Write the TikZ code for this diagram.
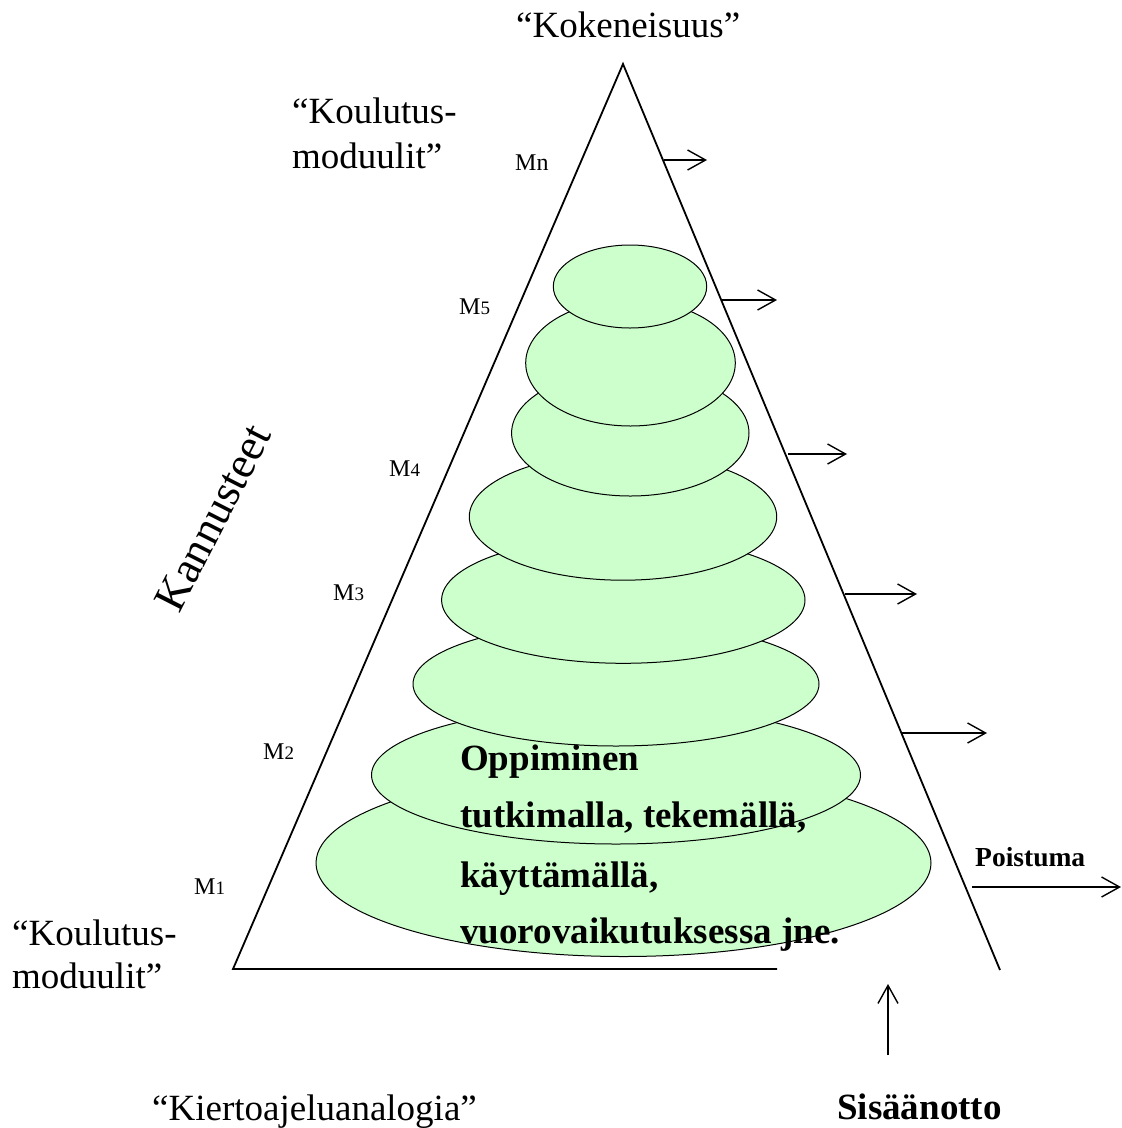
\documentclass[tikz,border=0pt]{standalone}
\usepackage{fontspec}
\setmainfont{Liberation Serif}
\usetikzlibrary{arrows.meta}
\definecolor{pale}{HTML}{CCFFCC}
\tikzset{
  ell/.style={draw=black, line width=1pt, fill=pale},
  side/.style={draw=black, line width=1.8pt},
  outarrow/.style={draw=black, line width=1.4pt, -{Straight Barb[length=18pt,width=20pt,line width=1.4pt]}},
  big/.style={inner sep=0pt, font=\fontsize{37}{44}\selectfont},
  bigbold/.style={inner sep=0pt, font=\fontsize{37}{44}\selectfont\bfseries},
  mlab/.style={inner sep=0pt, font=\fontsize{24}{28}\selectfont},
}
\newcommand{\dig}[1]{{\fontsize{19}{22}\selectfont #1}}
\begin{document}
\begin{tikzpicture}[x=1pt,y=-1pt]
\useasboundingbox (0,0) rectangle (1122,1128);

% ellipses, bottom first
\draw[ell] (623.5,863) ellipse [x radius=307.5pt, y radius=93.5pt];
\draw[ell] (616,775) ellipse [x radius=244.5pt, y radius=69pt];
\draw[ell] (616,684) ellipse [x radius=203pt, y radius=62pt];
\draw[ell] (623.3,600) ellipse [x radius=181.7pt, y radius=63.3pt];
\draw[ell] (623,516.7) ellipse [x radius=153.7pt, y radius=63.5pt];
\draw[ell] (630.3,433) ellipse [x radius=118.7pt, y radius=63pt];
\draw[ell] (630.5,363) ellipse [x radius=104.8pt, y radius=63pt];
\draw[ell] (630,286.5) ellipse [x radius=76.7pt, y radius=41.5pt];

% triangle
\coordinate (apex) at (623,64);
\coordinate (bl) at (233,969);
\coordinate (br) at (777,969);
\coordinate (rs) at (1000,970);
\draw[side] (br) -- (bl) -- (apex) -- (rs);

% arrows out of the right side
\coordinate (a1s) at (664,160);  \coordinate (a1e) at (707,160);
\coordinate (a2s) at (721,300);  \coordinate (a2e) at (777,300);
\coordinate (a3s) at (788,454);  \coordinate (a3e) at (847,454);
\coordinate (a4s) at (845,594);  \coordinate (a4e) at (917,594);
\coordinate (a5s) at (902,733);  \coordinate (a5e) at (987,733);
\draw[outarrow] (a1s) -- (a1e);
\draw[outarrow] (a2s) -- (a2e);
\draw[outarrow] (a3s) -- (a3e);
\draw[outarrow] (a4s) -- (a4e);
\draw[outarrow] (a5s) -- (a5e);

\coordinate (ps) at (972,887);  \coordinate (pe) at (1121,887);
\draw[outarrow] (ps) -- (pe);
\coordinate (ss) at (888,1055); \coordinate (se) at (888,984);
\draw[outarrow] (ss) -- (se);

% texts
\node[big, anchor=base west] (kok) at (516,37) {“Kokeneisuus”};
\node[big, anchor=base west] (kt1) at (292,123) {“Koulutus-};
\node[big, anchor=base west] (kt2) at (292,168) {moduulit”};
\node[big, anchor=base west] (kb1) at (12,945) {“Koulutus-};
\node[big, anchor=base west] (kb2) at (12,988) {moduulit”};
\node[big, anchor=base west] (kier) at (152,1120) {“Kiertoajeluanalogia”};
\node[bigbold, anchor=base west] (sis) at (837,1119) {Sisäänotto};
\node[inner sep=0pt, font=\fontsize{27.5}{30}\selectfont\bfseries, anchor=base west] (poi) at (975,866) {Poistuma};

\node[inner sep=0pt, font=\fontsize{45}{50}\selectfont, rotate=63] (kan) at (213,518) {Kannusteet};

\node[mlab, anchor=base west] (mn) at (515,170) {Mn};
\node[mlab, anchor=base west] (m5) at (459,314) {M\dig{5}};
\node[mlab, anchor=base west] (m4) at (389,476) {M\dig{4}};
\node[mlab, anchor=base west] (m3) at (333,600) {M\dig{3}};
\node[mlab, anchor=base west] (m2) at (263,759) {M\dig{2}};
\node[mlab, anchor=base west] (m1) at (194,894) {M\dig{1}};

\node[bigbold, anchor=base west] (o1) at (460,770) {Oppiminen};
\node[bigbold, anchor=base west] (o2) at (460,827) {tutkimalla, tekemällä,};
\node[bigbold, anchor=base west] (o3) at (460,887) {käyttämällä,};
\node[bigbold, anchor=base west] (o4) at (460,943) {vuorovaikutuksessa jne.};
\end{tikzpicture}
\end{document}
